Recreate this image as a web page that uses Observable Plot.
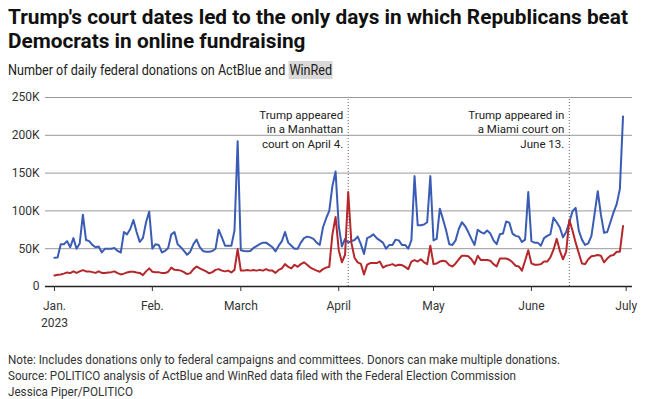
<!DOCTYPE html>
<html><head><meta charset="utf-8">
<script src="https://cdn.jsdelivr.net/npm/d3@7"></script>
<script src="https://cdn.jsdelivr.net/npm/@observablehq/plot@0.6"></script>
<style>
body{margin:0;background:#fff;width:647px;height:399px;overflow:hidden;position:relative;font-family:Roboto,"Liberation Sans",sans-serif;color:#111}
.fit{transform-origin:0 0;white-space:nowrap}
.fit span.ln{display:inline-block}
#title{position:absolute;left:8px;top:6px;font-weight:bold;font-size:21px;line-height:23.5px;color:#111}
#subtitle{position:absolute;left:8px;top:61px;font-size:14px;line-height:18px;color:#222}
#subtitle .hl{background:#d9d9d9;padding:1px 1px}
#chart{position:absolute;left:0;top:85px}
#footer{position:absolute;left:8px;top:352px;font-size:12.5px;line-height:16px;color:#333}
</style></head><body>
<div id="title" class="fit"><span class="ln">Trump's court dates led to the only days in which Republicans beat</span><br><span class="ln">Democrats in online fundraising</span></div>
<div id="subtitle" class="fit"><span class="ln">Number of daily federal donations on ActBlue and <span class="hl">WinRed</span></span></div>
<div id="chart"></div>
<div id="footer" class="fit"><span class="ln">Note: Includes donations only to federal campaigns and committees. Donors can make multiple donations.</span><br><span class="ln">Source: POLITICO analysis of ActBlue and WinRed data filed with the Federal Election Commission</span><br><span class="ln">Jessica Piper/POLITICO</span></div>
<script>
// Daily donations (thousands), one value per day starting Jan 1, 2023
const startDate = "2023-01-01";
const actBlue = [
 38,38.5,56,56,60,52,64,50,57,95,
 61.5,60,55,52,53,45,50,50,50,51,
 47,45,72,69,76,88,72,59,64,85,
 99,50,56,55,45,47,51,69,72,56,
 52,47,42,46,56,62,52,47,46,46,
 47,50,75,65,54,54,54,74,192,48,
 47,46.5,47,51,53.5,56,58,58,55,52,
 46.5,54,60,72,58,54,50,50,58,64,
 66,65,63,58,55,78,90,100,133,152,
 80,53,63,58,60,61.5,66,56,43,64,
 66,69,64,61,58,50,55,55,62,61,
 55,55,50,61,146,81,81,82,85,146,
 61,63,103,89,74,56,55,61,76,85,
 80,72,63,55,75,72,70,74,70,61,
 56,69,70,86,84.5,70,67,66,59,62,
 125,60,58,58,54,64,67,69,91,85,
 78,65,72,85,99.5,104,74,62,55,57,
 67,96,126,95,71,72,85,98,109,129,225
];
const winRed = [
 14.6,15.5,16,17,18.6,17.7,20,18,20,21.7,
 20,20,19,18,20,18,18,18.6,19,20,
 17.7,16,17,18.6,19.5,19.5,18.6,18,15,20,
 24,19.5,19,19,17.7,17.7,19.5,25,22,21.7,
 21,19,16.4,17.7,23,26.5,24,22,20,17.5,
 19,22,23,21,20,21,18.6,22,49.5,21,
 21,21.7,21,21.7,21,22,21,23,21,21,
 18,22,24,29.6,26,24,28.8,26,29.6,32,
 28.8,25,23,21,19.5,23,25,26,69,92,
 48,32,42,125,58,38,32,30,16,29,
 31,31,31,33,25,27.4,28.3,29.6,27.4,28.8,
 28.3,26,23,33,35,33,36,32,29.6,54,
 29.6,30.5,33,34,33,28.3,26.5,30.5,36,40.7,
 40.7,40,36,29.6,40.7,35,35,35,34,29.6,
 26.5,37,37,37,35.4,32,27.4,26.5,21,34,
 48,30.5,28.8,28.8,29.6,33,33,38.5,48.7,63,
 47,36,46,88,74,58,44,30.5,29.6,36,
 40,40.7,41.6,40.7,32,37,40.7,41.6,46,46,80
];
const monthTicks = ["2023-01-01","2023-02-01","2023-03-01","2023-04-01","2023-05-01","2023-06-01","2023-07-01"];
const monthLabels = ["Jan.\n2023","Feb.","March","April","May","June","July"];
const yTicks = [0,50,100,150,200,250];
const eventDates = ["2023-04-04","2023-06-13"];
const eventNotes = ["Trump appeared\nin a Manhattan\ncourt on April 4.","Trump appeared in\na Miami court on\nJune 13."];

// fit header/footer text widths to the reference's narrow typeface
function fitWidth(id, target){
  const el = document.getElementById(id);
  const w = el.querySelector(".ln").getBoundingClientRect().width;
  el.style.transform = "scaleX(" + (target / w) + ")";
}
fitWidth("title", 620);
fitWidth("subtitle", 325);
fitWidth("footer", 552);

const start = new Date(startDate);
const blueRows = actBlue.map((v,i)=>({date:d3.utcDay.offset(start,i), value:v}));
const redRows = winRed.map((v,i)=>({date:d3.utcDay.offset(start,i), value:v}));
const events = eventDates.map((d,i)=>({date:new Date(d), note:eventNotes[i]}));
const tickDates = monthTicks.map(d=>new Date(d));

const chart = Plot.plot({
  width: 647, height: 250,
  marginTop: 12, marginBottom: 49, marginLeft: 45, marginRight: 15,
  style: {fontFamily: "Roboto, 'Liberation Sans', sans-serif", fontSize: "12px", color: "#333", background: "transparent"},
  x: {type: "utc", domain: [d3.utcHour.offset(start, -68), new Date("2023-07-03")]},
  y: {domain: [0, 250]},
  marks: [
    Plot.gridY(yTicks.filter(d=>d>0), {stroke: "#999", strokeOpacity: 1, strokeWidth: 1}),
    Plot.axisY(yTicks, {tickSize: 0, tickPadding: 6, label: null, fontSize: 12,
      tickFormat: d => d === 0 ? "0" : d + "K"}),
    Plot.ruleX(events, {x: "date", y1: 0, y2: 250, stroke: "#666", strokeDasharray: "1,2", strokeWidth: 1}),
    Plot.line(blueRows, {x: "date", y: "value", stroke: "#3a5cb5", strokeWidth: 2}),
    Plot.line(redRows, {x: "date", y: "value", stroke: "#b5272b", strokeWidth: 2}),
    Plot.ruleY([0], {stroke: "#222", strokeWidth: 1.5}),
    Plot.axisX(tickDates, {tickSize: 5, tickPadding: 6, label: null, lineHeight: 1.45,
      tickFormat: d => monthLabels[d.getUTCMonth()]}),
    Plot.text(events, {x: "date", y: () => 250, text: "note", textAnchor: "end", lineAnchor: "top",
      dx: -5, dy: 11, fontSize: 11.5, lineHeight: 1.27, fill: "#222"})
  ]
});
document.getElementById("chart").appendChild(chart);
</script>
</body></html>
